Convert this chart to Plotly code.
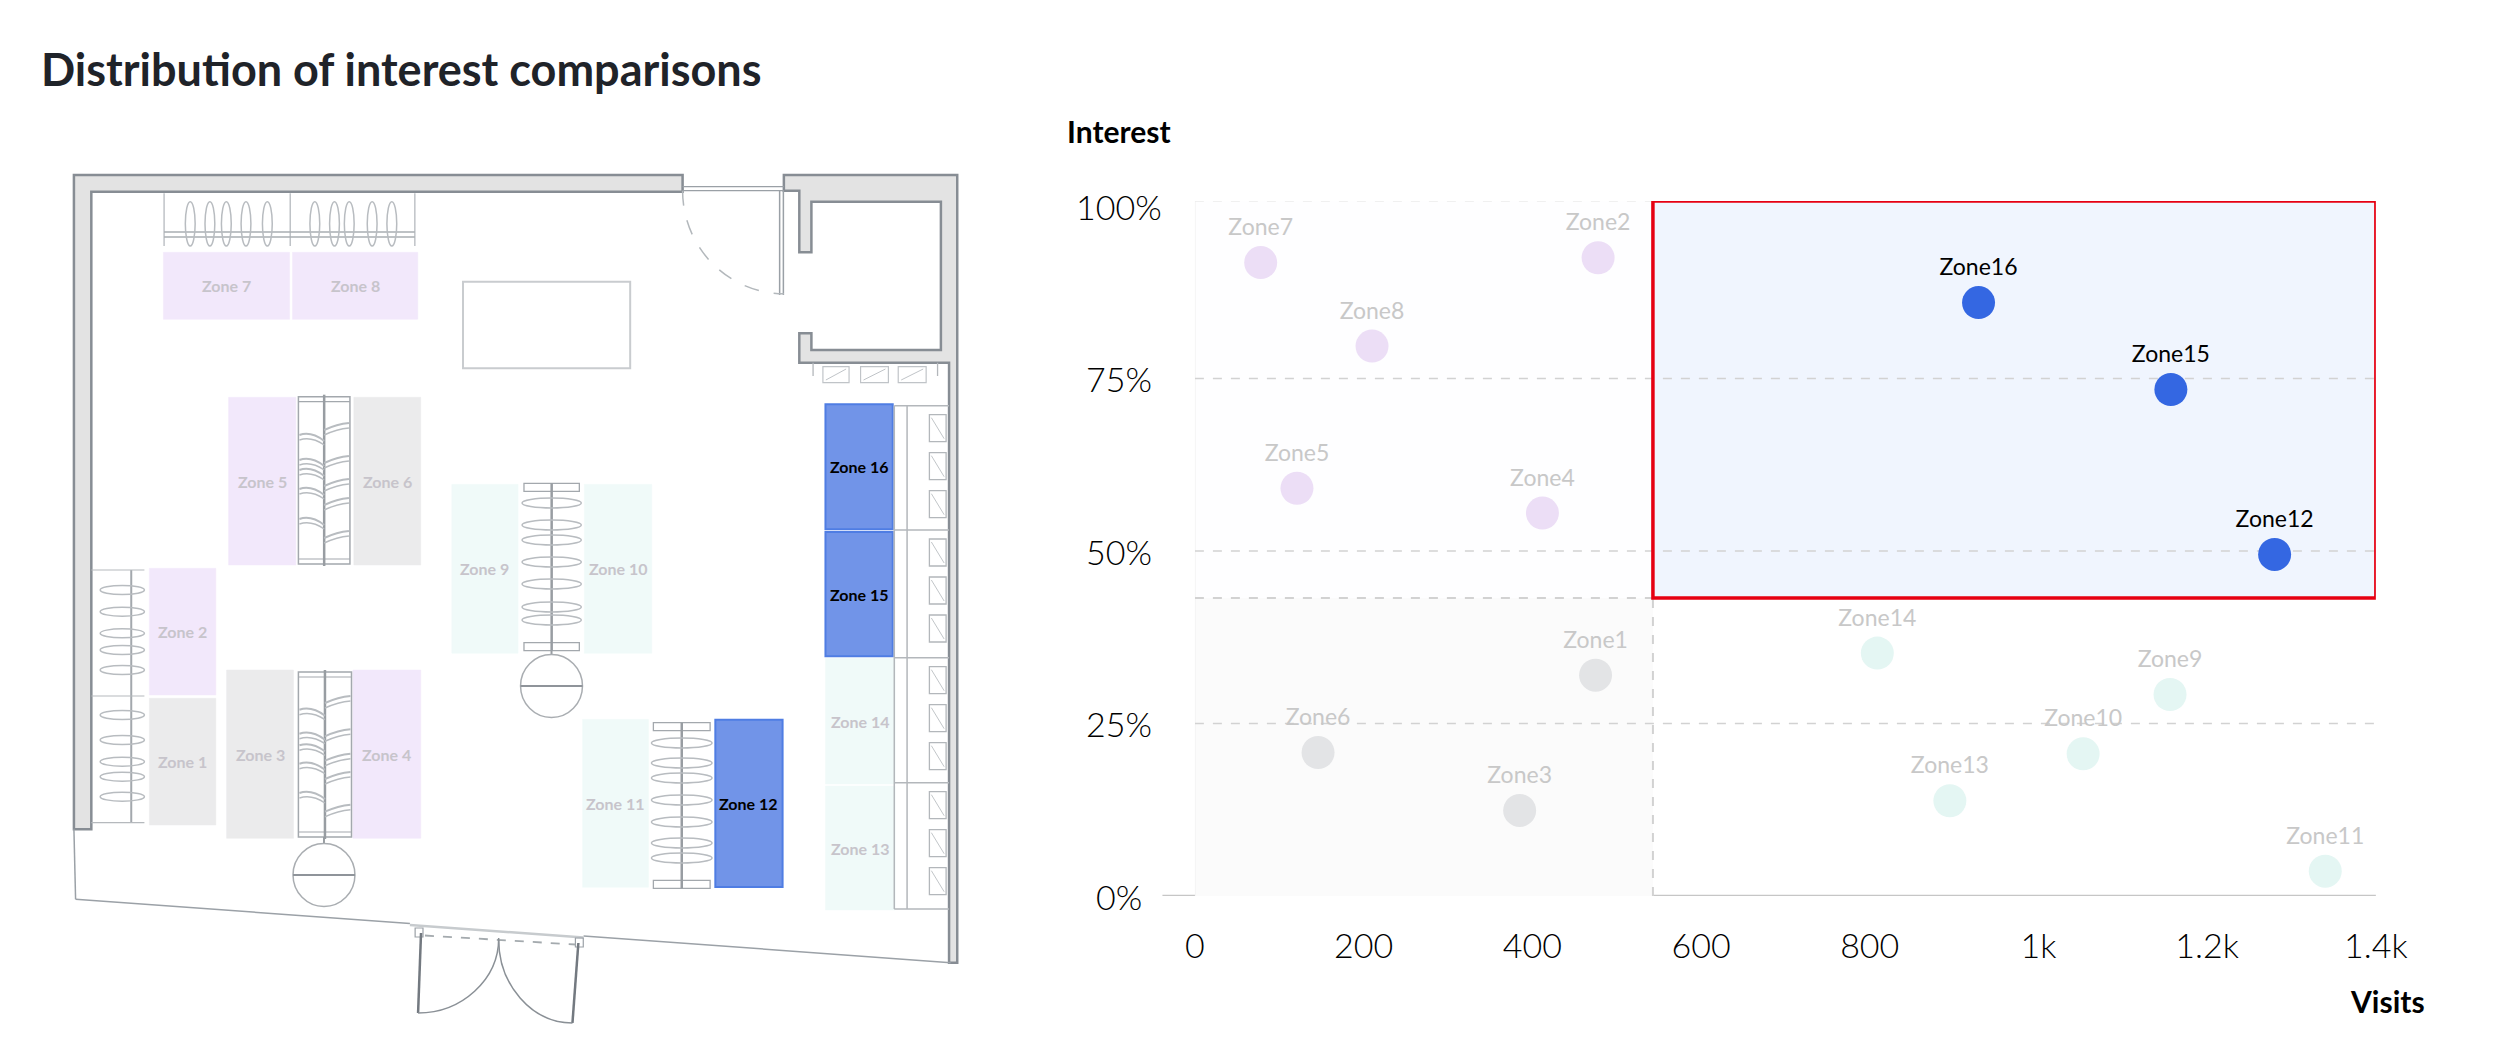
import plotly.graph_objects as go

# ---- values ----
zones = ["Zone1", "Zone2", "Zone3", "Zone4", "Zone5", "Zone6", "Zone7", "Zone8",
         "Zone9", "Zone10", "Zone11", "Zone12", "Zone13", "Zone14", "Zone15", "Zone16"]
visits = [475, 478, 385, 412, 121, 146, 78, 210,
          1156, 1053, 1340, 1280, 895, 809, 1157, 929]
interest = [0.320, 0.925, 0.124, 0.555, 0.591, 0.208, 0.918, 0.797,
            0.292, 0.206, 0.036, 0.495, 0.138, 0.352, 0.734, 0.860]

visit_split = 543       # vertical divider of the quadrants
interest_split = 0.432  # horizontal divider of the quadrants

x_ticks = [0, 200, 400, 600, 800, 1000, 1200, 1400]
x_tick_text = ["0", "200", "400", "600", "800", "1k", "1.2k", "1.4k"]
y_ticks = [0, 0.25, 0.5, 0.75, 1.0]
y_tick_text = ["0%", "25%", "50%", "75%", "100%"]

W, H = 2517, 1063
FONT = "Lato"

# quadrant of each zone decides its colour on the chart and on the floor plan
def quadrant(v, i):
    if i >= interest_split:
        return "focus" if v >= visit_split else "interest"
    return "traffic" if v >= visit_split else "low"

marker_colors = {"focus": "#3467e2", "interest": "#ecdef6", "low": "#e3e4e6", "traffic": "#e4f6f3"}
floor_colors = {"focus": "#7194e8", "interest": "#f2e8fb", "low": "#ebebec", "traffic": "#f0faf9"}
quads = [quadrant(v, i) for v, i in zip(visits, interest)]

fig = go.Figure()

# ---------------- scatter (right) ----------------
X0_PX, X1_PX = 1205, 2406
YB_PX, YT_PX = 896, 201
Y_TOP = (YB_PX - YT_PX) / 690.0

fig.add_trace(go.Scatter(
    x=visits, y=interest, text=zones,
    mode="markers+text", textposition="top center",
    marker=dict(size=33, color=[marker_colors[q] for q in quads], line=dict(width=0)),
    textfont=dict(family=FONT, size=23,
                  color=["#000000" if q == "focus" else "#c8c8c8" for q in quads]),
    hoverinfo="skip", showlegend=False, cliponaxis=False,
))

shapes = []

def add(**kw):
    kw.setdefault("layer", "below")
    shapes.append(kw)

GRID = "#d2d2d2"
# quadrant backgrounds
add(type="rect", xref="x", yref="y", x0=0, x1=visit_split, y0=interest_split, y1=Y_TOP,
    fillcolor="#fefeff", line=dict(width=0))
add(type="rect", xref="x", yref="y", x0=0, x1=visit_split, y0=0, y1=interest_split,
    fillcolor="#fbfbfb", line=dict(width=0))
add(type="rect", xref="x", yref="y", x0=visit_split, x1=1400, y0=interest_split, y1=Y_TOP,
    fillcolor="#f0f5fe", line=dict(width=0))
add(type="line", xref="x", yref="y", x0=0, x1=0, y0=0, y1=Y_TOP,
    line=dict(color="#f1f1f1", width=1.5))
# dashed grid lines
for v in y_ticks[1:-1]:
    add(type="line", xref="x", yref="y", x0=0, x1=1400, y0=v, y1=v,
        line=dict(color=GRID, width=1.5, dash="dash"))
add(type="line", xref="x", yref="y", x0=0, x1=visit_split, y0=Y_TOP, y1=Y_TOP,
    line=dict(color="#ececec", width=1.5, dash="dash"))
add(type="line", xref="x", yref="y", x0=0, x1=visit_split, y0=interest_split, y1=interest_split,
    line=dict(color=GRID, width=2, dash="dash"))
add(type="line", xref="x", yref="y", x0=visit_split, x1=visit_split, y0=0, y1=interest_split,
    line=dict(color=GRID, width=2, dash="dash"))
# highlighted quadrant border
add(type="rect", xref="x", yref="y", x0=visit_split, x1=1400, y0=interest_split, y1=Y_TOP,
    fillcolor="rgba(0,0,0,0)", line=dict(color="#e60012", width=3.5))
# x axis line (runs a little left of zero)
add(type="line", xref="paper", yref="y", x0=1172 / W, x1=X1_PX / W, y0=0, y1=0,
    line=dict(color="#c6c6c6", width=2.5))

annotations = []
for v, t in zip(y_ticks, y_tick_text):
    annotations.append(dict(xref="paper", yref="y", x=1128 / W, y=v, text=t, showarrow=False,
                            xanchor="center", yanchor="middle",
                            font=dict(family=FONT, size=34, color="#000000", weight=300)))
annotations.append(dict(xref="paper", yref="paper", x=1128 / W, y=1 - 131 / H, text="<b>Interest</b>",
                        showarrow=False, xanchor="center", yanchor="middle",
                        font=dict(family=FONT, size=30, color="#000000")))
annotations.append(dict(xref="paper", yref="paper", x=2418 / W, y=1 - 1001 / H, text="<b>Visits</b>",
                        showarrow=False, xanchor="center", yanchor="middle",
                        font=dict(family=FONT, size=30, color="#000000")))
annotations.append(dict(xref="paper", yref="paper", x=30 / W, y=1 - 69 / H,
                        text="<b>Distribution of interest comparisons</b>", showarrow=False,
                        xanchor="left", yanchor="middle",
                        font=dict(family=FONT, size=45, color="#1f2329")))

# ---------------- floor plan (left), drawn in image pixels ----------------
WALL_FILL, WALL_LINE = "#e3e3e3", "#878d94"
RACK, HANGER = "#a3a8ad", "#b8bcc0"

def fp_rect(x0, y0, x1, y1, fill="rgba(0,0,0,0)", color=RACK, width=1.5):
    add(type="rect", xref="x2", yref="y2", x0=x0, y0=y0, x1=x1, y1=y1,
        fillcolor=fill, line=dict(color=color, width=width))

def fp_line(x0, y0, x1, y1, color=RACK, width=1.5, dash="solid"):
    add(type="line", xref="x2", yref="y2", x0=x0, y0=y0, x1=x1, y1=y1,
        line=dict(color=color, width=width, dash=dash))

def fp_path(d, color=RACK, width=1.5, fill="rgba(0,0,0,0)", dash="solid"):
    add(type="path", xref="x2", yref="y2", path=d, fillcolor=fill,
        line=dict(color=color, width=width, dash=dash))

def fp_ellipse(x0, y0, x1, y1, color=HANGER, width=1.5):
    add(type="circle", xref="x2", yref="y2", x0=x0, y0=y0, x1=x1, y1=y1,
        fillcolor="rgba(0,0,0,0)", line=dict(color=color, width=width))

def pts(p):
    return " ".join(("M" if k == 0 else "L") + f"{x},{y}" for k, (x, y) in enumerate(p)) + " Z"

# zone boxes on the plan
zone_boxes = {
    "Zone1": (141.7, 698.3, 209.3, 825), "Zone2": (141.7, 568.3, 209.3, 695),
    "Zone3": (220.3, 670, 288.3, 838.3), "Zone4": (348.7, 670, 417.7, 838.3),
    "Zone5": (222.3, 397.3, 290.7, 565), "Zone6": (349.7, 397.3, 417.7, 565),
    "Zone7": (156, 252.3, 284.3, 319.3), "Zone8": (287.3, 252.3, 414.7, 319.3),
    "Zone9": (449.3, 484.3, 516.7, 653.3), "Zone10": (584, 484.3, 652.7, 653.3),
    "Zone11": (582.3, 719.3, 649.3, 887.3), "Zone12": (717.3, 719.7, 785.7, 887),
    "Zone13": (829.3, 786, 900, 910), "Zone14": (829.3, 658.3, 900, 784),
    "Zone15": (829.3, 532, 897.7, 656.3), "Zone16": (829.3, 404.3, 897.7, 529.3),
}
for name, q in zip(zones, quads):
    x0, y0, x1, y1 = zone_boxes[name]
    border = "#4f7de3" if q == "focus" else floor_colors[q]
    fp_rect(x0, y0, x1, y1, fill=floor_colors[q], color=border, width=2 if q == "focus" else 0.5)
    annotations.append(dict(xref="x2", yref="y2", x=(x0 + x1) / 2, y=(y0 + y1) / 2,
                            text="<b>" + name.replace("Zone", "Zone ") + "</b>", showarrow=False,
                            xanchor="center", yanchor="middle",
                            font=dict(family=FONT, size=16,
                                      color="#000000" if q == "focus" else "#c7c4cb")))

# walls
fp_path(pts([(65, 175), (684, 175), (684, 191.7), (82.7, 191.7), (82.7, 829.3), (65, 829.3)]),
        color=WALL_LINE, width=2.5, fill=WALL_FILL)
fp_path(pts([(787, 175), (963.3, 175), (963.3, 962.7), (955, 962.7), (955, 362.7), (802.7, 362.7),
             (802.7, 333.3), (815, 333.3), (815, 350), (946.7, 350), (946.7, 201.7), (815, 201.7),
             (815, 252.3), (802.7, 252.3), (802.7, 190.7), (787, 190.7)]),
        color=WALL_LINE, width=2.5, fill=WALL_FILL)
# top door
fp_line(684, 186.7, 787, 186.7, color="#9aa0a6", width=1.2)
fp_line(684, 190.7, 787, 190.7, color="#9aa0a6", width=1.2)
fp_line(782.7, 190.7, 782.7, 295, color="#9aa0a6", width=1.5)
fp_line(786.5, 190.7, 786.5, 295, color="#9aa0a6", width=1.5)
r = 103
fp_path(f"M{787 - r},190.7 C{787 - r},{190.7 + 0.55 * r} {787 - 0.55 * r},{190.7 + r} 787,{190.7 + r}",
        color="#b3b8bc", width=1.5, dash="longdash")
# lower outline
fp_line(65, 829.3, 66.7, 899.3, color="#9ba1a7", width=1.5)
fp_line(66.7, 899.3, 406.7, 923.5, color="#9ba1a7", width=1.5)
fp_line(583.3, 936, 956.7, 962.7, color="#9ba1a7", width=1.5)
fp_line(406.7, 925, 583.3, 937.5, color="#c7cbce", width=2.5)
# entrance double door
DOOR = "#737980"
fp_rect(412, 928, 420, 937, color="#9ba1a7", width=1.2)
fp_rect(575, 938, 583, 947, color="#9ba1a7", width=1.2)
fp_line(422, 935.5, 575, 944.5, color="#a4aaae", width=1.8, dash="dash")
fp_line(418, 933, 415, 1013, color=DOOR, width=2.5)
fp_line(578, 943, 572, 1023, color=DOOR, width=2.5)
fp_path("M415,1013 C459,1013 497,980 497,938", color="#8a9096", width=1.5)
fp_path("M497,940 C497,984 530,1023 572,1023", color="#8a9096", width=1.5)

# cash desk
fp_rect(460.7, 281.7, 630.7, 368.3, fill="#ffffff", color="#c9cccf", width=2)

# top wall rack (zones 7/8)
for x in (156.7, 285, 411.7):
    fp_line(x, 193.3, x, 246, color="#bfc3c7", width=1.5)
fp_line(156.7, 232, 411.7, 232, color="#a9aeb2", width=1.3)
fp_line(156.7, 237, 411.7, 237, color="#a9aeb2", width=1.3)
for x in (183.3, 203.3, 220, 240, 261.7, 310, 330, 345, 368.3, 388.3):
    fp_ellipse(x - 5, 201.7, x + 5, 246)

# left wall rack (zones 2/1)
fp_line(123.3, 570, 123.3, 822.7, color=RACK, width=2)
for y in (570, 696, 822.7):
    fp_line(82.7, y, 136.7, y, color="#b5b9bd", width=1.2)
for y in (590, 611.7, 633.3, 650, 670, 715, 740, 761.7, 776.7, 796.7):
    fp_ellipse(91.7, y - 4.5, 136.7, y + 4.5)

# double-sided racks with side hangers (zones 5/6 and 3/4)
def side_rack(x0, x1, y0, y1, left_ys, right_ys):
    xm = (x0 + x1) / 2
    fp_rect(x0, y0, x1, y1, color=RACK, width=1.5)
    fp_line(x0, y0 + 5, x1, y0 + 5, color=RACK, width=1.2)
    fp_line(x0, y1 - 5, x1, y1 - 5, color=RACK, width=1.2)
    fp_line(xm, y0 - 2, xm, y1 + 2, color="#989da2", width=2.5)
    for y in left_ys:
        fp_path(f"M{x0 + 1},{y - 3} Q{(x0 + xm) / 2},{y - 7} {xm},{y + 3}", color=HANGER, width=2)
        fp_path(f"M{x0 + 1},{y + 2} Q{(x0 + xm) / 2},{y - 2} {xm},{y + 7}", color=HANGER, width=1.5)
    for y in right_ys:
        fp_path(f"M{xm},{y + 3} Q{(xm + x1) / 2},{y - 3} {x1 - 1},{y - 4}", color=HANGER, width=2)
        fp_path(f"M{xm},{y + 8} Q{(xm + x1) / 2},{y + 2} {x1 - 1},{y + 1}", color=HANGER, width=1.5)

side_rack(293.3, 345.7, 396.7, 564, (438, 463, 473, 492, 522), (427, 460, 483, 502, 535))
side_rack(293.3, 347.3, 672, 837, (712.7, 736.7, 748.3, 766.7, 796), (700, 733.3, 757.7, 776, 808.7))

# island racks with looped hangers (zones 9/10 and 11/12)
def loop_rack(x0, x1, y0, y1, ys):
    xm = (x0 + x1) / 2
    fp_rect(x0, y0, x1, y0 + 8, color=RACK, width=1.3)
    fp_rect(x0, y1 - 8, x1, y1, color=RACK, width=1.3)
    fp_line(xm, y0, xm, y1, color="#989da2", width=2.5)
    for y in ys:
        fp_ellipse(x0 - 2, y - 5, x1 + 2, y + 5)

loop_rack(522.7, 579, 483.3, 650.7, (503, 525, 540, 562, 584, 607, 620))
loop_rack(654.3, 712, 722.7, 888.3, (743, 763, 778, 800, 822, 843, 858))

# round racks
for cx, cy, top in ((550.7, 686, 650.7), (319.3, 875, 837)):
    rr = 31.5
    fp_line(cx, top, cx, cy - rr, color="#989da2", width=2)
    fp_ellipse(cx - rr, cy - rr, cx + rr, cy + rr, color="#a9adb1", width=1.5)
    fp_line(cx - rr, cy, cx + rr, cy, color="#8f949a", width=2)

# wall shelving on the right
for x in (899.3, 912.3):
    fp_line(x, 405.7, x, 909, color="#b3b7bb", width=1.5)
for y in (405.7, 530, 657.7, 782.7, 909):
    fp_line(899.3, y, 955, y, color="#b3b7bb", width=1.5)
for top in (405.7, 530, 657.7, 782.7):
    for off in (9, 47, 85):
        y0 = top + off
        fp_rect(935, y0, 952, y0 + 27, color="#b3b7bb", width=1.3)
        fp_line(937, y0 + 3, 950, y0 + 24, color="#c2c6c9", width=1)
# shelf below the small room
fp_line(816.7, 362.7, 816.7, 376, color="#b3b7bb", width=1.3)
fp_line(943.3, 362.7, 943.3, 376, color="#b3b7bb", width=1.3)
for x0, x1 in ((826.7, 853.3), (865, 893.3), (903.3, 931.7)):
    fp_rect(x0, 366.7, x1, 382.7, color="#c0c4c8", width=1.2)
    fp_line(x0 + 3, 380, x1 - 3, 369, color="#c0c4c8", width=1)

# anchor trace for the plan axes
fig.add_trace(go.Scatter(x=[0], y=[0], xaxis="x2", yaxis="y2", mode="markers",
                         marker=dict(opacity=0), hoverinfo="skip", showlegend=False))

fig.update_layout(
    width=W, height=H,
    margin=dict(l=0, r=0, t=0, b=0),
    paper_bgcolor="white", plot_bgcolor="rgba(0,0,0,0)",
    font=dict(family=FONT),
    xaxis=dict(domain=[X0_PX / W, X1_PX / W], range=[0, 1400],
               tickvals=x_ticks, ticktext=x_tick_text,
               tickfont=dict(family=FONT, size=34, color="#000000", weight=300),
               ticks="outside", ticklen=20, tickcolor="rgba(0,0,0,0)",
               showgrid=False, zeroline=False, showline=False, fixedrange=True),
    yaxis=dict(domain=[1 - YB_PX / H, 1 - YT_PX / H], range=[0, Y_TOP],
               showticklabels=False, showgrid=False, zeroline=False, showline=False,
               fixedrange=True),
    xaxis2=dict(domain=[0, 1000 / W], range=[0, 1000], visible=False, anchor="y2", fixedrange=True),
    yaxis2=dict(domain=[0, 1], range=[H, 0], visible=False, anchor="x2", fixedrange=True),
    shapes=shapes,
    annotations=annotations,
)

fig.write_html("out.html", config={"displayModeBar": False},
               post_script="document.body.style.margin='0';document.body.style.overflow='hidden';")
